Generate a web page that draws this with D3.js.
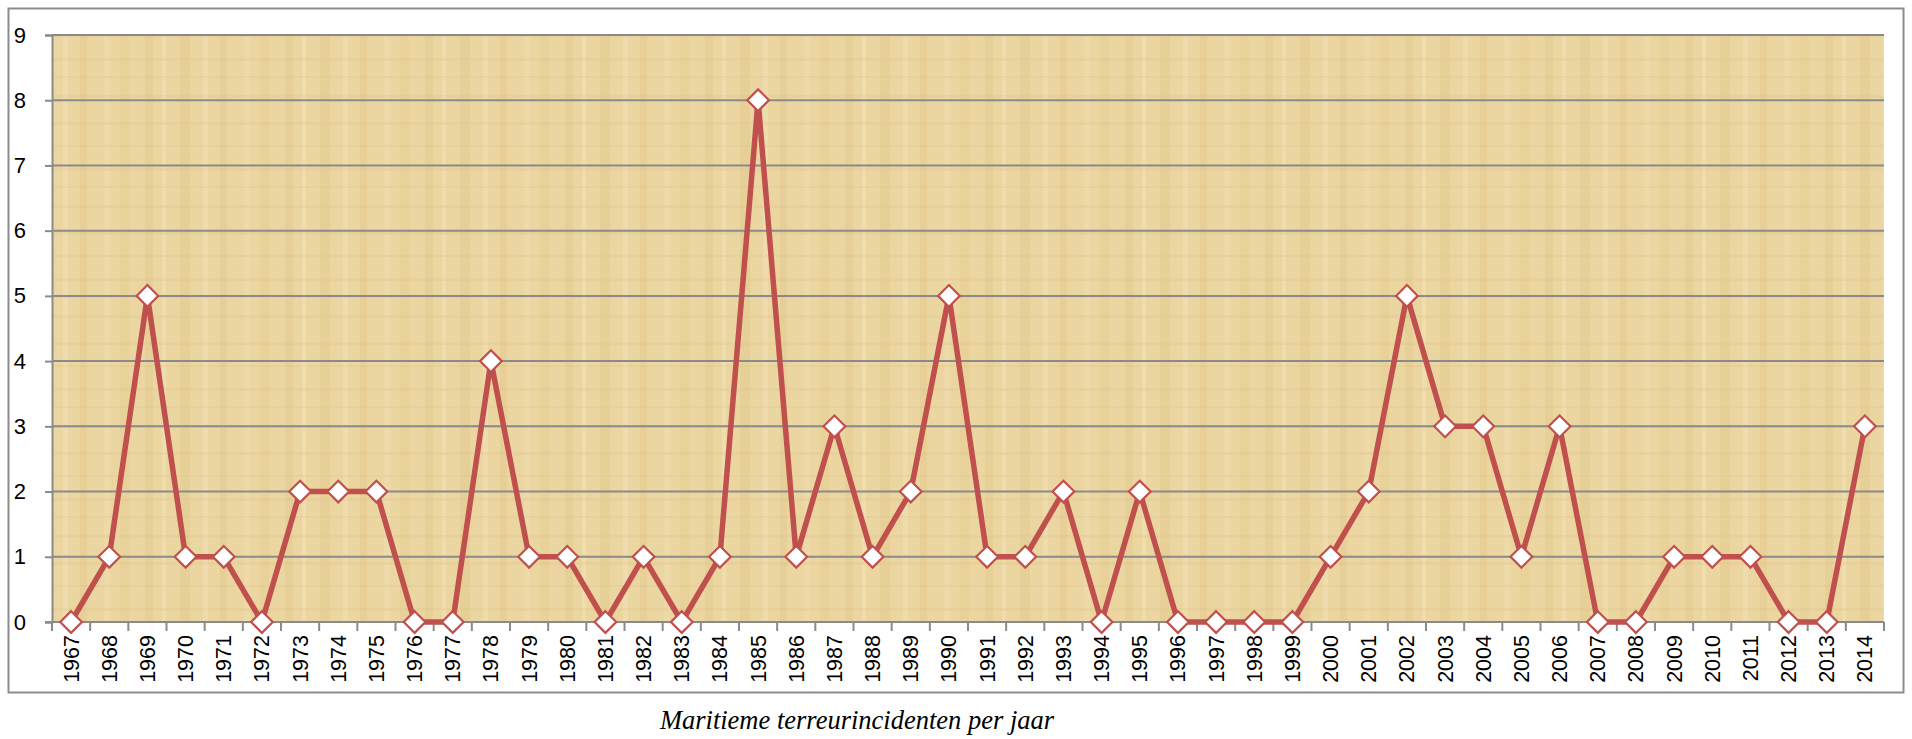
<!DOCTYPE html>
<html><head><meta charset="utf-8">
<script src="https://cdn.jsdelivr.net/npm/d3@7"></script>
<style>html,body{margin:0;padding:0;background:#fff;}svg{display:block;}</style>
</head><body>
<svg id="c" width="1912" height="739"></svg>
<script>
const years = ["1967","1968","1969","1970","1971","1972","1973","1974","1975","1976","1977","1978","1979","1980","1981","1982","1983","1984","1985","1986","1987","1988","1989","1990","1991","1992","1993","1994","1995","1996","1997","1998","1999","2000","2001","2002","2003","2004","2005","2006","2007","2008","2009","2010","2011","2012","2013","2014"];
const incidents = [0,1,5,1,1,0,2,2,2,0,0,4,1,1,0,1,0,1,8,1,3,1,2,5,1,1,2,0,2,0,0,0,0,1,2,5,3,3,1,3,0,0,1,1,1,0,0,3];
const yTicks = [0,1,2,3,4,5,6,7,8,9];
const title = "Maritieme terreurincidenten per jaar";

const svg = d3.select("#c");
const L = 52, R = 1884, T = 35, B = 622;

// outer border
svg.append("rect").attr("x",8.5).attr("y",8.5).attr("width",1895).attr("height",684)
  .attr("fill","#fff").attr("stroke","#8c8c8c").attr("stroke-width",2);

// papyrus-like background
const defs = svg.append("defs");
const pat = defs.append("pattern").attr("id","pap").attr("patternUnits","userSpaceOnUse")
  .attr("width",140).attr("height",110);
pat.append("rect").attr("width",140).attr("height",110).attr("fill","#ebd5a0");
const stripes = [[5,8,"#e3c98f",0.5],[22,4,"#f3e2b8",0.6],[40,10,"#e2c78c",0.4],[63,5,"#f4e4bc",0.5],[80,7,"#e3c88d",0.45],[104,6,"#f1deb0",0.5],[120,9,"#e5cb92",0.4]];
stripes.forEach(s=>pat.append("rect").attr("x",s[0]).attr("y",0).attr("width",s[1]).attr("height",110).attr("fill",s[2]).attr("opacity",s[3]));
[[12,3],[35,2],[58,3],[76,2],[95,3]].forEach(s=>pat.append("rect").attr("x",0).attr("y",s[0]).attr("width",140).attr("height",s[1]).attr("fill","#dfc48c").attr("opacity",0.3));
svg.append("rect").attr("x",L).attr("y",T).attr("width",R-L).attr("height",B-T).attr("fill","url(#pap)");

const x = d3.scaleBand().domain(years).range([L,R]).paddingInner(0).paddingOuter(0);
const y = d3.scaleLinear().domain([0,9]).range([B,T]);

// gridlines
svg.append("g").selectAll("line").data(yTicks).join("line")
  .attr("x1",L).attr("x2",R).attr("y1",d=>y(d)).attr("y2",d=>y(d))
  .attr("stroke","#8a8a8a").attr("stroke-width",2);

// y axis
const ya = svg.append("g").attr("transform",`translate(${L},0)`)
  .call(d3.axisLeft(y).tickValues(yTicks).tickSize(7).tickPadding(19).tickFormat(d3.format("d")));
ya.select(".domain").attr("stroke","#8a8a8a").attr("stroke-width",2);
ya.selectAll(".tick line").attr("stroke","#8a8a8a").attr("stroke-width",2);
ya.selectAll("text").attr("font-family","Liberation Sans, Arial, sans-serif").attr("font-size",22).attr("fill","#000");

// x axis
const xa = svg.append("g").attr("transform",`translate(0,${B})`)
  .call(d3.axisBottom(x).tickSize(0).tickPadding(0));
xa.select(".domain").remove();
xa.selectAll(".tick text").attr("font-family","Liberation Sans, Arial, sans-serif").attr("font-size",21.5).attr("fill","#000")
  .attr("transform","rotate(-90)").attr("text-anchor","end").attr("dy","0.35em").attr("x",-13).attr("y",0);
// boundary ticks
svg.append("g").selectAll("line").data(years.concat(["end"])).join("line")
  .attr("x1",(d,i)=>L+i*x.bandwidth()).attr("x2",(d,i)=>L+i*x.bandwidth())
  .attr("y1",B).attr("y2",B+9).attr("stroke","#8a8a8a").attr("stroke-width",2);
svg.append("line").attr("x1",L-7).attr("x2",R).attr("y1",B).attr("y2",B).attr("stroke","#8a8a8a").attr("stroke-width",2);

// line
const line = d3.line().x((d,i)=>x(years[i])+x.bandwidth()/2).y(d=>y(d));
svg.append("path").datum(incidents).attr("d",line).attr("fill","none")
  .attr("stroke","#c0504d").attr("stroke-width",5.5).attr("stroke-linejoin","round");

// markers
const sym = d3.symbol().type(d3.symbolDiamond2).size(300);
svg.append("g").selectAll("path").data(incidents).join("path")
  .attr("transform",(d,i)=>`translate(${x(years[i])+x.bandwidth()/2},${y(d)})`)
  .attr("d",sym).attr("fill","#fff").attr("stroke","#c0504d").attr("stroke-width",2.2);

// title
svg.append("text").attr("x",857).attr("y",729).attr("text-anchor","middle")
  .attr("font-family","Liberation Serif, Times New Roman, serif").attr("font-style","italic")
  .attr("font-size",26.5).attr("fill","#000").text(title);
</script>
</body></html>
